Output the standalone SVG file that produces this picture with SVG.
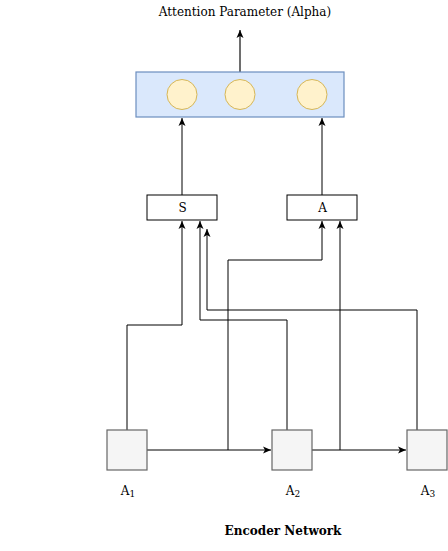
<svg xmlns="http://www.w3.org/2000/svg" width="448" height="551" viewBox="0 0 448 551">
<style>
text{font-family:"DejaVu Serif","Liberation Serif",serif;font-size:12px;fill:#000;text-anchor:middle}
.c{fill:none;stroke:#000;stroke-width:1}
.enc{fill:#f5f5f5;stroke:#666;stroke-width:1.2}
.wb{fill:#fff;stroke:#000;stroke-width:1}
.circ{fill:#fff2cc;stroke:#d6b656;stroke-width:1}
</style>
<defs>
<marker id="ah" markerUnits="userSpaceOnUse" markerWidth="10" markerHeight="10" viewBox="-9 -5 10 10" refX="0" refY="0" orient="auto">
<path d="M0,0 L-8,-3.5 L-6,0 L-8,3.5 z" fill="#000"/>
</marker>
</defs>
<rect width="448" height="551" fill="#fff"/>
<g id="title"><text x="245" y="16">Attention Parameter (Alpha)</text></g>
<g id="connectors">
<path d="M240,72 L240,30" fill="none" stroke="#6e6e6e" stroke-width="2" marker-end="url(#ah)"/>
<path class="c" d="M182,195 L182,118" marker-end="url(#ah)"/>
<path class="c" d="M322,195 L322,118" marker-end="url(#ah)"/>
<path class="c" d="M127,430 L127,325 L182,325 L182,221" marker-end="url(#ah)"/>
<path class="c" d="M287,430 L287,320 L200,320 L200,221" marker-end="url(#ah)"/>
<path class="c" d="M417,430 L417,310 L207,310 L207,229" marker-end="url(#ah)"/>
<path class="c" d="M147,450 L271,450" marker-end="url(#ah)"/>
<path class="c" d="M312,450 L406,450" marker-end="url(#ah)"/>
<path class="c" d="M228,450 L228,260 L322,260 L322,221" marker-end="url(#ah)"/>
<path class="c" d="M340,450 L340,221" marker-end="url(#ah)"/>
</g>
<g id="alpha-layer">
<rect x="136" y="72" width="208" height="45" fill="#dae8fc" stroke="#6c8ebf" stroke-width="1.2"/>
<circle class="circ" cx="182" cy="94.5" r="15"/>
<circle class="circ" cx="240" cy="94.5" r="15"/>
<circle class="circ" cx="312" cy="94.5" r="15"/>
</g>
<g id="node-S"><rect class="wb" x="147" y="195" width="70" height="25"/><text x="182.5" y="212">S</text></g>
<g id="node-A"><rect class="wb" x="287" y="195" width="70" height="25"/><text x="322.5" y="212">A</text></g>
<g id="node-A1"><rect class="enc" x="107" y="430" width="40" height="40"/><text x="128" y="495">A<tspan font-size="9" dy="2">1</tspan></text></g>
<g id="node-A2"><rect class="enc" x="272" y="430" width="40" height="40"/><text x="293" y="495">A<tspan font-size="9" dy="2">2</tspan></text></g>
<g id="node-A3"><rect class="enc" x="407" y="430" width="40" height="40"/><text x="428" y="495">A<tspan font-size="9" dy="2">3</tspan></text></g>
<g id="label"><text x="283" y="535" font-weight="bold">Encoder Network</text></g>
</svg>
